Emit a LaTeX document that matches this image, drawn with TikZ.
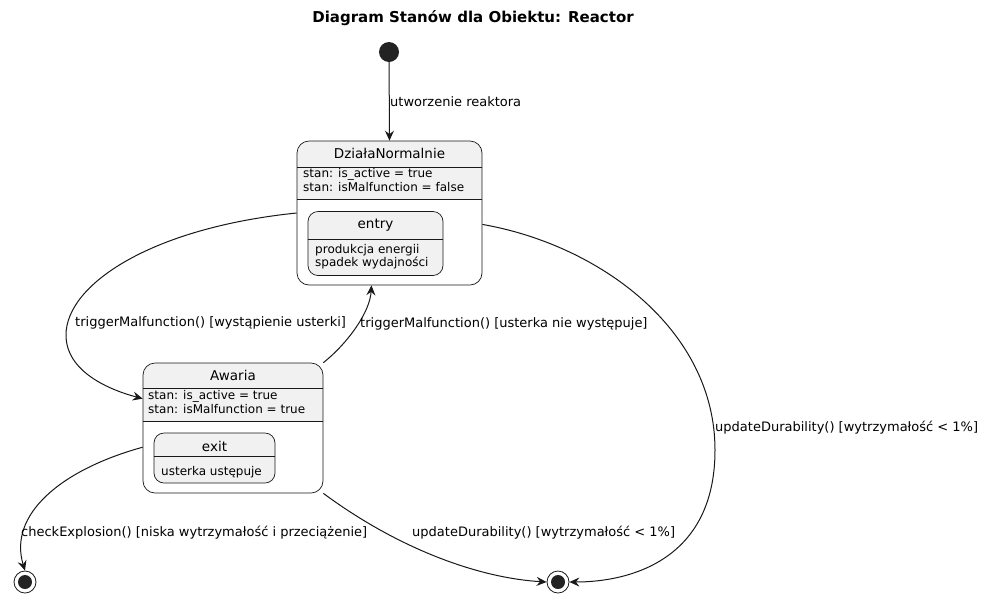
\documentclass[tikz,border=0pt]{standalone}
\usepackage{fontspec}
\setmainfont{DejaVu Sans}
\usepackage{xcolor}
\usetikzlibrary{arrows.meta}
\definecolor{statebg}{HTML}{F1F1F1}
\definecolor{umlline}{HTML}{181818}
\definecolor{umldot}{HTML}{222222}
\tikzset{
  statebox/.style={draw=umlline, line width=0.7pt, rounded corners=12pt, inner sep=0pt},
  substate/.style={draw=umlline, line width=0.7pt, fill=statebg, rounded corners=10pt, inner sep=0pt},
  statename/.style={inner sep=0pt, font=\fontsize{13.5}{16}\selectfont},
  attr/.style={inner sep=0pt, anchor=west, font=\fontsize{12}{14}\selectfont},
  lbl/.style={inner sep=0pt, anchor=west, font=\fontsize{13}{15}\selectfont},
  sepline/.style={draw=umlline, line width=0.7pt},
  trans/.style={draw=umlline, line width=1pt, -{Stealth[length=10pt,width=9pt,inset=3.5pt]}},
}

\begin{document}
\begin{tikzpicture}[x=1pt,y=-1pt]
  \useasboundingbox (0,0) rectangle (985,598);
  \node[font=\bfseries\fontsize{15}{18}\selectfont] (title) at (473,18) {Diagram Stanów dla Obiektu: Reactor};

  \node[circle, fill=umldot, minimum size=20pt, inner sep=0pt] (start) at (389,52) {};
  \node[circle, draw=umlline, line width=0.8pt, minimum size=22pt, inner sep=0pt] (end1) at (25,582) {};
  \node[circle, draw=umlline, line width=0.8pt, minimum size=22pt, inner sep=0pt] (end2) at (558,582) {};
  \foreach \e in {end1,end2} \fill[umldot] (\e) circle (7pt);

  % DzialaNormalnie
  \begin{scope}
    \clip[rounded corners=12pt] (297,141) rectangle (482,285);
    \fill[statebg] (297,141) rectangle (482,199);
  \end{scope}
  \node[statebox, minimum width=185pt, minimum height=144pt] (dn) at (389.5,213) {};
  \foreach \y in {167,199} \draw[sepline] (297,\y) -- (482,\y);
  \node[statename] (dnname) at (389.5,153) {DziałaNormalnie};
  \node[attr] (dnattr1) at (303,174) {stan: is\_active = true};
  \node[attr] (dnattr2) at (303,187) {stan: isMalfunction = false};
  \node[substate, minimum width=135pt, minimum height=64pt] (entry) at (375.5,243.5) {};
  \draw[sepline] (308,239) -- (443,239);
  \node[statename] (entryname) at (375.5,225) {entry};
  \node[attr] (entry1) at (315,250) {produkcja energii};
  \node[attr] (entry2) at (315,263) {spadek wydajności};

  % Awaria
  \begin{scope}
    \clip[rounded corners=12pt] (143,363) rectangle (323,493);
    \fill[statebg] (143,363) rectangle (323,421);
  \end{scope}
  \node[statebox, minimum width=180pt, minimum height=130pt] (aw) at (233,428) {};
  \foreach \y in {388,421} \draw[sepline] (143,\y) -- (323,\y);
  \node[statename] (awname) at (233,375) {Awaria};
  \node[attr] (awattr1) at (148,396) {stan: is\_active = true};
  \node[attr] (awattr2) at (148,409) {stan: isMalfunction = true};
  \node[substate, minimum width=121pt, minimum height=50pt] (exit) at (214.5,458) {};
  \draw[sepline] (154,456) -- (275,456);
  \node[statename] (exitname) at (214.5,446) {exit};
  \node[attr] (exit1) at (161,472) {usterka ustępuje};

  % przejscia
  \draw[trans] (start) -- (dn.north);
  \draw[trans] (dn.west) .. controls (150,228) and (66,285) .. (66,335) .. controls (66,372) and (110,390) .. (aw.162);
  \draw[trans] (aw.north east) .. controls (348,343) and (370,312) .. (dn.256);
  \draw[trans] (dn.353) .. controls (600,245) and (715,330) .. (715,450) .. controls (715,560) and (630,582) .. (end2.east);
  \draw[trans] (aw.192) .. controls (60,470) and (8,515) .. (end1.north);
  \draw[trans] (aw.south east) .. controls (400,550) and (480,578) .. (end2.west);

  \node[lbl] (l1) at (390,102) {utworzenie reaktora};
  \node[lbl] (l2) at (75,323) {triggerMalfunction() [wystąpienie usterki]};
  \node[lbl] (l3) at (360,324) {triggerMalfunction() [usterka nie występuje]};
  \node[lbl] (l4) at (715,428) {updateDurability() [wytrzymałość < 1\%]};
  \node[lbl] (l5) at (21,533) {checkExplosion() [niska wytrzymałość i przeciążenie]};
  \node[lbl] (l6) at (412,533) {updateDurability() [wytrzymałość < 1\%]};
\end{tikzpicture}
\end{document}
